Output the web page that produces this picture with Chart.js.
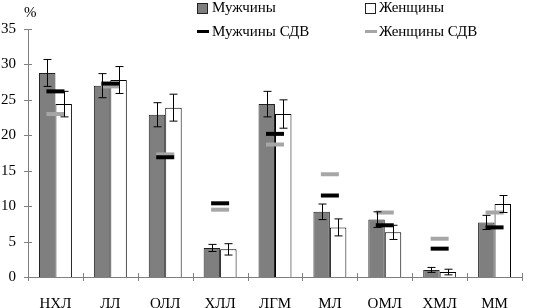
<!DOCTYPE html>
<html>
<head>
<meta charset="utf-8">
<script src="https://cdn.jsdelivr.net/npm/chart.js@4.4.0/dist/chart.umd.min.js"></script>
<style>
  body { margin: 0; background: #fff; }
  #wrap { position: relative; width: 535px; height: 308px; font-family: "Liberation Serif", serif; font-size: 15px; color: #000; }
  #chart { display: block; }
  #pct { position: absolute; left: 24px; top: 4px; }
  .lg { position: absolute; white-space: nowrap; line-height: 15px; }
  .box { position: absolute; width: 9px; height: 9px; border: 1px solid #222; }
  .dash { position: absolute; width: 12px; height: 3px; }
</style>
</head>
<body>
<div id="wrap">
  <canvas id="chart" width="535" height="308"></canvas>
  <div id="pct">%</div>
  <div class="box" style="left:197px;top:3px;background:#7f7f7f"></div>
  <div class="lg" style="left:212px;top:0px">Мужчины</div>
  <div class="box" style="left:365px;top:3px;background:#fff"></div>
  <div class="lg" style="left:379px;top:0px">Женщины</div>
  <div class="dash" style="left:197px;top:30px;background:#000"></div>
  <div class="lg" style="left:212px;top:24px">Мужчины СДВ</div>
  <div class="dash" style="left:365px;top:30px;background:#a6a6a6"></div>
  <div class="lg" style="left:379px;top:24px">Женщины СДВ</div>
</div>
<script>
// Категории и значения, %
const categories = ['НХЛ', 'ЛЛ', 'ОЛЛ', 'ХЛЛ', 'ЛГМ', 'МЛ', 'ОМЛ', 'ХМЛ', 'ММ'];
const menValues = [28.8, 27.0, 22.9, 4.1, 24.4, 9.2, 8.1, 1.0, 7.7];
const menErrors = [1.9, 1.7, 1.7, 0.5, 1.8, 1.1, 1.1, 0.35, 1.0];
const womenValues = [24.4, 27.8, 23.9, 3.9, 23.0, 7.0, 6.3, 0.7, 10.3];
const womenErrors = [1.8, 1.9, 1.9, 0.8, 2.0, 1.2, 1.0, 0.4, 1.2];
const menSdv = [26.2, 27.3, 16.9, 10.4, 20.2, 11.5, 7.3, 4.0, 7.0];
const womenSdv = [23.0, 26.9, 17.3, 9.5, 18.7, 14.5, 9.1, 5.4, 9.1];
const yTicks = [0, 5, 10, 15, 20, 25, 30, 35];

const serif = { family: '"Liberation Serif", serif', size: 15 };

// Планки погрешностей поверх столбцов
const errorBars = {
    id: 'errorBars',
    afterDatasetsDraw(chart) {
        const ctx = chart.ctx;
        const y = chart.scales.y;
        const errs = [menErrors, womenErrors];
        const vals = [menValues, womenValues];
        ctx.save();
        ctx.strokeStyle = '#000';
        ctx.lineWidth = 1;
        [0, 1].forEach(d => {
            chart.getDatasetMeta(d).data.forEach((bar, i) => {
                const x = Math.round(bar.x) + 0.5;
                const top = y.getPixelForValue(vals[d][i] + errs[d][i]);
                const bot = y.getPixelForValue(vals[d][i] - errs[d][i]);
                ctx.beginPath();
                ctx.moveTo(x, top); ctx.lineTo(x, bot);
                ctx.moveTo(x - 4, top); ctx.lineTo(x + 4, top);
                ctx.moveTo(x - 4, bot); ctx.lineTo(x + 4, bot);
                ctx.stroke();
            });
        });
        ctx.restore();
    }
};

// Засечки, пересекающие оси
const axisTicks = {
    id: 'axisTicks',
    afterDraw(chart) {
        const ctx = chart.ctx;
        const { x, y } = chart.scales;
        ctx.save();
        ctx.strokeStyle = '#808080';
        ctx.lineWidth = 1;
        ctx.beginPath();
        y.ticks.forEach(t => {
            const py = Math.round(y.getPixelForValue(t.value)) + 0.5;
            ctx.moveTo(x.left - 4, py); ctx.lineTo(x.left + 4, py);
        });
        const half = (x.getPixelForValue(1) - x.getPixelForValue(0)) / 2;
        for (let i = 0; i <= categories.length; i++) {
            const px = Math.round(x.getPixelForValue(i) - half) + 0.5;
            ctx.moveTo(px, y.bottom - 4); ctx.lineTo(px, y.bottom + 4);
        }
        ctx.stroke();
        ctx.restore();
    }
};

new Chart(document.getElementById('chart').getContext('2d'), {
    type: 'bar',
    data: {
        labels: categories,
        datasets: [
            {
                label: 'Мужчины',
                data: menValues,
                backgroundColor: '#7f7f7f',
                borderColor: '#222',
                borderWidth: 1,
                categoryPercentage: 0.6,
                barPercentage: 1,
                order: 2
            },
            {
                label: 'Женщины',
                data: womenValues,
                backgroundColor: '#fff',
                borderColor: '#000',
                borderWidth: 1,
                categoryPercentage: 0.6,
                barPercentage: 1,
                order: 2
            },
            {
                type: 'line',
                label: 'Мужчины СДВ',
                data: menSdv,
                showLine: false,
                pointStyle: 'line',
                pointRadius: 9,
                pointBorderWidth: 4,
                borderColor: '#000',
                order: 1
            },
            {
                type: 'line',
                label: 'Женщины СДВ',
                data: womenSdv,
                showLine: false,
                pointStyle: 'line',
                pointRadius: 9,
                pointBorderWidth: 4,
                borderColor: '#a6a6a6',
                order: 1
            }
        ]
    },
    options: {
        responsive: false,
        animation: false,
        devicePixelRatio: 1,
        layout: { padding: { top: 29, right: 3, left: 0, bottom: 0 } },
        plugins: { legend: { display: false }, tooltip: { enabled: false } },
        scales: {
            x: {
                grid: { display: false, drawTicks: false },
                border: { color: '#808080' },
                ticks: { color: '#000', font: serif, padding: 18 },
                afterFit: s => { s.height = 31; }
            },
            y: {
                min: 0,
                max: 35,
                afterBuildTicks: s => { s.ticks = yTicks.map(v => ({ value: v })); },
                grid: { display: false, drawTicks: false },
                border: { color: '#808080' },
                ticks: { color: '#000', font: serif, padding: 12 },
                afterFit: s => { s.width = 28; }
            }
        }
    },
    plugins: [errorBars, axisTicks]
});
</script>
</body>
</html>
